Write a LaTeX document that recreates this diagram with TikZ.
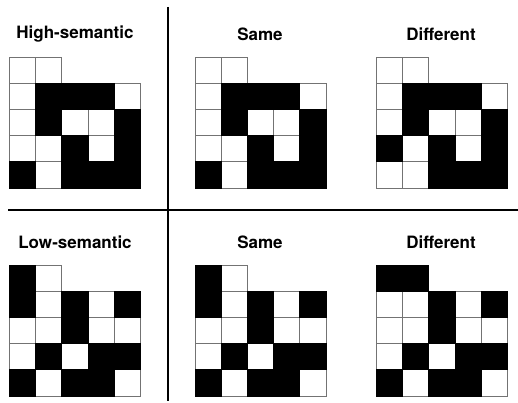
\documentclass[tikz,border=0pt]{standalone}
\usepackage{fontspec}
\setmainfont{TeX Gyre Heros}
\tikzset{
  whitecell/.style={draw=black!55,fill=white,line width=0.9pt},
  blackcell/.style={draw=black,fill=black,line width=0.9pt},
  divider/.style={draw=black,line width=2pt},
  title/.style={font=\fontsize{17}{20}\selectfont\bfseries,anchor=center}
}
% one 5x5 pattern with a two-cell top row; #1 = top left corner, #2 = black cells (col/row)
\newcommand{\cellgrid}[2]{%
  \begin{scope}[shift={#1},x=26.2pt,y=-26.2pt]
    \foreach \c in {0,1} \draw[whitecell] (\c,0) rectangle ++(1,1);
    \foreach \r in {1,...,4} \foreach \c in {0,...,4} \draw[whitecell] (\c,\r) rectangle ++(1,1);
    \foreach \c/\r in {#2} \draw[blackcell] (\c,\r) rectangle ++(1,1);
  \end{scope}}
\begin{document}
\begin{tikzpicture}[x=1pt,y=-1pt]
  \useasboundingbox (0,0) rectangle (518,403);
  %dividers
  \coordinate (vtop) at (167.5,7);
  \coordinate (vbot) at (167.5,401);
  \coordinate (hleft) at (8,209.5);
  \coordinate (hright) at (518,209.5);
  \draw[divider] (vtop) -- (vbot);
  \draw[divider] (hleft) -- (hright);
  %titles
  \node[title] (hightitle) at (75,34) {High-semantic};
  \node[title] (highsame) at (260,34) {Same};
  \node[title] (highdiff) at (441,34) {Different};
  \node[title] (lowtitle) at (75,242) {Low-semantic};
  \node[title] (lowsame) at (260,242) {Same};
  \node[title] (lowdiff) at (441,242) {Different};
  %high-semantic patterns
  \cellgrid{(9.5,57)}{1/1,2/1,3/1,1/2,4/2,2/3,4/3,0/4,2/4,3/4,4/4}
  \cellgrid{(195,57)}{1/1,2/1,3/1,1/2,4/2,2/3,4/3,0/4,2/4,3/4,4/4}
  \cellgrid{(376.5,57)}{1/1,2/1,3/1,1/2,4/2,0/3,2/3,4/3,2/4,3/4,4/4}
  %low-semantic patterns
  \cellgrid{(9.5,265)}{0/0,0/1,2/1,4/1,2/2,1/3,3/3,4/3,0/4,2/4,3/4}
  \cellgrid{(195,265)}{0/0,0/1,2/1,4/1,2/2,1/3,3/3,4/3,0/4,2/4,3/4}
  \cellgrid{(376.5,265)}{0/0,1/0,2/1,4/1,2/2,1/3,3/3,4/3,0/4,2/4,3/4}
\end{tikzpicture}
\end{document}
